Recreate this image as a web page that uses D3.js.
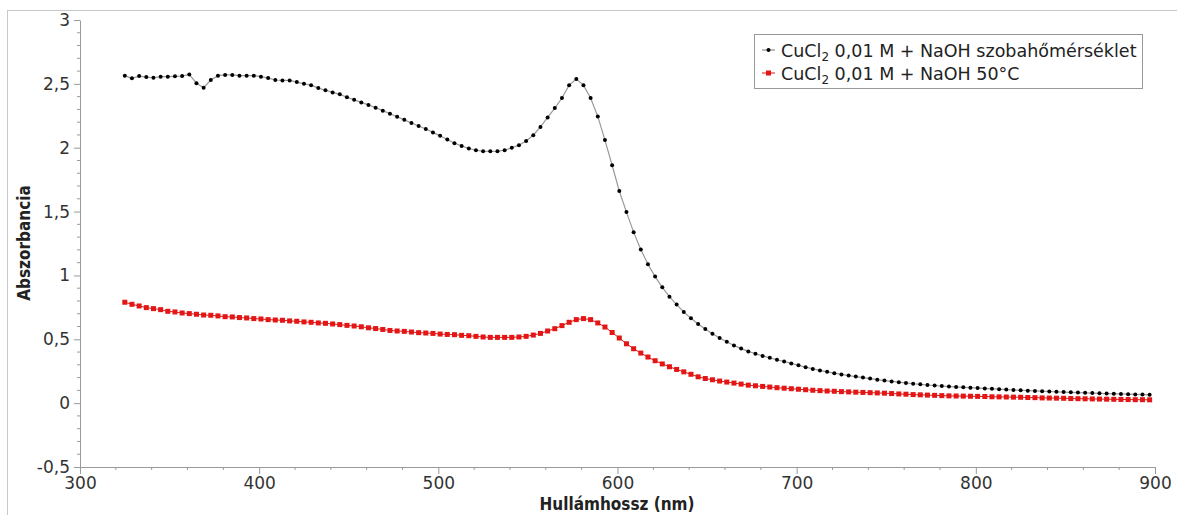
<!DOCTYPE html>
<html><head><meta charset="utf-8">
<script src="https://cdn.jsdelivr.net/npm/d3@7"></script>
<style>html,body{margin:0;padding:0;background:#fff;}svg{display:block;}</style>
</head><body>
<script>
const wavelengths = [325,329,333,337,341,345,349,353,357,361,365,369,373,377,381,385,389,393,397,401,405,409,413,417,421,425,429,433,437,441,445,449,453,457,461,465,469,473,477,481,485,489,493,497,501,505,509,513,517,521,525,529,533,537,541,545,549,553,557,561,565,569,573,577,581,585,589,593,597,601,605,609,613,617,621,625,629,633,637,641,645,649,653,657,661,665,669,673,677,681,685,689,693,697,701,705,709,713,717,721,725,729,733,737,741,745,749,753,757,761,765,769,773,777,781,785,789,793,797,801,805,809,813,817,821,825,829,833,837,841,845,849,853,857,861,865,869,873,877,881,885,889,893,897];
const roomTemp = [2.564,2.543,2.561,2.553,2.548,2.556,2.556,2.559,2.561,2.574,2.505,2.470,2.530,2.564,2.570,2.570,2.564,2.564,2.564,2.556,2.545,2.530,2.527,2.527,2.514,2.500,2.490,2.467,2.450,2.433,2.418,2.395,2.375,2.355,2.335,2.313,2.290,2.266,2.242,2.218,2.194,2.170,2.146,2.120,2.093,2.064,2.035,2.014,1.994,1.980,1.973,1.972,1.973,1.980,2.000,2.020,2.053,2.098,2.163,2.237,2.310,2.389,2.490,2.538,2.490,2.389,2.245,2.060,1.863,1.661,1.496,1.339,1.203,1.088,0.991,0.907,0.834,0.772,0.714,0.664,0.620,0.581,0.544,0.510,0.480,0.452,0.427,0.405,0.387,0.370,0.355,0.340,0.326,0.311,0.296,0.282,0.268,0.256,0.245,0.235,0.225,0.216,0.208,0.200,0.192,0.184,0.177,0.170,0.164,0.158,0.152,0.147,0.142,0.138,0.134,0.130,0.127,0.124,0.121,0.118,0.115,0.112,0.109,0.106,0.103,0.101,0.098,0.096,0.094,0.091,0.089,0.087,0.085,0.083,0.081,0.079,0.077,0.075,0.073,0.072,0.070,0.068,0.067,0.065];
const hot50 = [0.790,0.774,0.761,0.748,0.740,0.732,0.719,0.714,0.706,0.701,0.696,0.690,0.688,0.683,0.677,0.675,0.670,0.667,0.662,0.659,0.654,0.651,0.649,0.644,0.641,0.636,0.633,0.628,0.625,0.620,0.615,0.609,0.604,0.598,0.590,0.584,0.577,0.569,0.565,0.562,0.557,0.552,0.549,0.546,0.541,0.538,0.536,0.531,0.528,0.523,0.518,0.515,0.515,0.515,0.515,0.518,0.523,0.533,0.546,0.565,0.583,0.607,0.633,0.654,0.662,0.654,0.628,0.596,0.553,0.510,0.465,0.426,0.392,0.361,0.332,0.307,0.285,0.264,0.245,0.226,0.206,0.193,0.183,0.173,0.165,0.157,0.149,0.141,0.136,0.131,0.126,0.121,0.117,0.113,0.109,0.105,0.101,0.098,0.095,0.093,0.090,0.088,0.086,0.084,0.082,0.080,0.078,0.075,0.072,0.070,0.067,0.065,0.063,0.061,0.059,0.057,0.056,0.055,0.054,0.053,0.052,0.050,0.049,0.048,0.047,0.046,0.044,0.043,0.041,0.040,0.039,0.038,0.036,0.035,0.034,0.033,0.032,0.031,0.030,0.029,0.028,0.027,0.027,0.026];
const xTicks = [300,400,500,600,700,800,900];
const yTicks = [-0.5,0,0.5,1,1.5,2,2.5,3];
const seriesNames = ["CuCl|2| 0,01 M + NaOH szobahőmérséklet","CuCl|2| 0,01 M + NaOH 50°C"];

const W = 1177, H = 515;
const svg = d3.select("body").append("svg").attr("width", W).attr("height", H);
const FONT = "'DejaVu Sans', Verdana, sans-serif";
const AX = "#9a9a9a";

// outer frame
svg.append("rect").attr("x", 7.5).attr("y", 10.5).attr("width", W).attr("height", H)
  .attr("fill", "none").attr("stroke", "#c8c8c8");

const x = d3.scaleLinear().domain([300, 900]).range([80, 1155]);
const y = d3.scaleLinear().domain([-0.5, 3]).range([467, 20]);
const fmt = d => String(d).replace(".", ",");

// y axis
const yAxis = d3.axisLeft(y).tickValues(yTicks).tickSize(6).tickSizeOuter(0).tickFormat(fmt).tickPadding(4);
const gy = svg.append("g").attr("transform", "translate(80,0)").call(yAxis);
const yMinor = d3.range(-5, 31).map(v => v / 10).filter(v => Math.abs(v * 2 - Math.round(v * 2)) > 1e-6);
gy.selectAll(".minor").data(yMinor).enter().append("line").attr("class", "minor")
  .attr("x1", -3).attr("x2", 0).attr("y1", d => y(d)).attr("y2", d => y(d));

// x axis
const xAxis = d3.axisBottom(x).tickValues(xTicks).tickSize(7).tickSizeOuter(0).tickPadding(3);
const gx = svg.append("g").attr("transform", "translate(0,467)").call(xAxis);
const xMinor = d3.range(300, 901, 20).filter(v => v % 100 !== 0);
gx.selectAll(".minor").data(xMinor).enter().append("line").attr("class", "minor")
  .attr("y1", 0).attr("y2", 3).attr("x1", d => x(d)).attr("x2", d => x(d));

[gx, gy].forEach(g => {
  g.select(".domain").attr("stroke", AX);
  g.selectAll("line").attr("stroke", AX);
  g.selectAll("text").attr("font-family", FONT).attr("font-size", 17).attr("fill", "#333");
});

// titles
svg.append("text").attr("x", 617).attr("y", 510).attr("text-anchor", "middle")
  .attr("font-family", "'DejaVu Sans Condensed', 'DejaVu Sans', sans-serif").attr("font-weight", "bold")
  .attr("font-size", 17).attr("fill", "#222").text("Hullámhossz (nm)");
svg.append("text").attr("transform", "translate(30,243) rotate(-90)").attr("text-anchor", "middle")
  .attr("font-family", "'DejaVu Sans Condensed', 'DejaVu Sans', sans-serif").attr("font-weight", "bold")
  .attr("font-size", 17).attr("fill", "#222").text("Abszorbancia");

// series
const black = wavelengths.map((w, i) => [w, roomTemp[i]]);
const red = wavelengths.map((w, i) => [w, hot50[i]]);
const line = d3.line().x(d => x(d[0])).y(d => y(d[1]));

svg.append("path").datum(red).attr("d", line).attr("fill", "none").attr("stroke", "#e31515").attr("stroke-width", 1);
svg.append("g").selectAll("rect").data(red).enter().append("rect")
  .attr("x", d => x(d[0]) - 2.5).attr("y", d => y(d[1]) - 2.5).attr("width", 5).attr("height", 5)
  .attr("fill", "#e31515");

svg.append("path").datum(black).attr("d", line).attr("fill", "none").attr("stroke", "#9a9a9a").attr("stroke-width", 1.2);
svg.append("g").selectAll("circle").data(black).enter().append("circle")
  .attr("cx", d => x(d[0])).attr("cy", d => y(d[1])).attr("r", 2)
  .attr("fill", "#000");

// legend
const lg = svg.append("g");
lg.append("rect").attr("x", 754.5).attr("y", 34.5).attr("width", 388).attr("height", 54)
  .attr("fill", "#fff").attr("stroke", "#999");
const colors = ["#000", "#e31515"];
const lineCols = ["#777", "#e31515"];
seriesNames.forEach((name, i) => {
  const cy = 50 + i * 23;
  lg.append("line").attr("x1", 762).attr("x2", 775).attr("y1", cy).attr("y2", cy).attr("stroke", lineCols[i]);
  if (i === 0) lg.append("circle").attr("cx", 768.5).attr("cy", cy).attr("r", 2).attr("fill", colors[i]);
  else lg.append("rect").attr("x", 766).attr("y", cy - 2.5).attr("width", 5).attr("height", 5).attr("fill", colors[i]);
  const parts = name.split("|");
  const t = lg.append("text").attr("x", 781).attr("y", cy + 7).attr("font-family", FONT)
    .attr("font-size", 17.5).attr("fill", "#222");
  t.append("tspan").text(parts[0]);
  t.append("tspan").attr("font-size", 12).attr("dy", 4).text(parts[1]);
  t.append("tspan").attr("dy", -4).text(parts[2]);
});
</script>
</body></html>
